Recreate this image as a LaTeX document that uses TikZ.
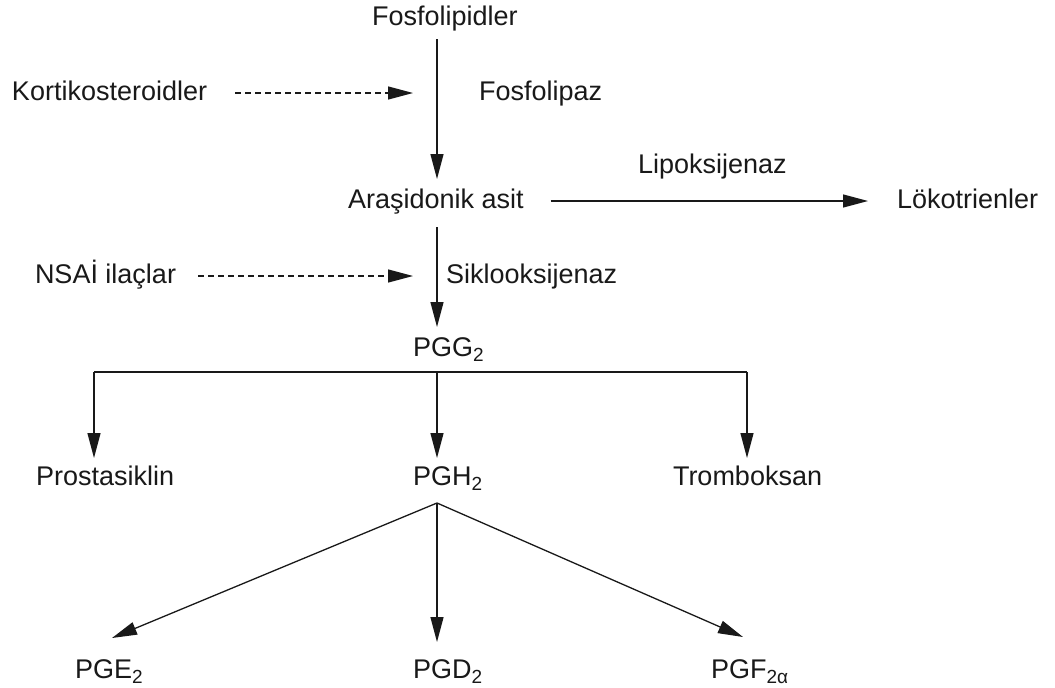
\documentclass[tikz,border=0pt]{standalone}
\usepackage{fontspec}
\setmainfont{Liberation Sans}
\usetikzlibrary{arrows.meta,calc}
\newcommand{\lowsub}[1]{\raisebox{-5pt}{\fontsize{19}{19}\selectfont #1}}
\begin{document}
\begin{tikzpicture}[x=1pt,y=-1pt,
  lbl/.style={inner sep=0pt,outer sep=0pt,anchor=base west,text height=20pt,text depth=6pt,font=\fontsize{27}{30}\selectfont,text=black!90},
  arr/.style={line width=1.3pt,black!90,-{Triangle[length=25pt,width=13pt]}},
  darr/.style={arr,dash pattern=on 6pt off 4pt},
  ln/.style={line width=1.3pt,black!90}]
\useasboundingbox (0,0) rectangle (1055,688);
\fill[white] (0,0) rectangle (1055,688);
\node[lbl] (fos) at (372,25) {Fosfolipidler};
\node[lbl] (kort) at (12,100) {Kortikosteroidler};
\node[lbl] (fosz) at (479,100) {Fosfolipaz};
\node[lbl] (lipo) at (638,173) {Lipoksijenaz};
\node[lbl] (ara) at (348,208) {Araşidonik asit};
\node[lbl] (lok) at (897,208) {Lökotrienler};
\node[lbl] (nsai) at (35,283) {NSAİ ilaçlar};
\node[lbl] (siklo) at (446,283) {Siklooksijenaz};
\node[lbl] (pgg) at (413,356) {PGG\lowsub{2}};
\node[lbl] (pros) at (36,485) {Prostasiklin};
\node[lbl] (pgh) at (413,485) {PGH\lowsub{2}};
\node[lbl] (trom) at (673,485) {Tromboksan};
\node[lbl] (pge) at (75,678) {PGE\lowsub{2}};
\node[lbl] (pgd) at (413,678) {PGD\lowsub{2}};
\node[lbl] (pgf) at (711,678) {PGF\lowsub{2α}};
\coordinate (ax) at (437,0);
\draw[arr,shorten <=8pt,shorten >=9pt] (fos.south -| ax) -- (ara.north -| ax);
\draw[darr,shorten <=28pt,shorten >=24pt] (kort.east) -- (kort.east -| ax);
\draw[arr,shorten <=27pt,shorten >=29pt] (ara.east) -- (lok.west);
\draw[arr,shorten <=13pt,shorten >=9pt] (ara.south -| ax) -- (pgg.north -| ax);
\draw[darr,shorten <=22pt,shorten >=24pt] (nsai.east) -- (nsai.east -| ax);
\coordinate (bl) at (94,372);
\coordinate (bm) at (437,372);
\coordinate (br) at (747,372);
\draw[ln] (bl) -- (br);
\draw[arr,shorten >=7pt] (bl) -- (pros.north -| bl);
\draw[arr,shorten >=7pt] (bm) -- (pgh.north -| bm);
\draw[arr,shorten >=7pt] (br) -- (trom.north -| br);
\coordinate (apex) at ($(pgh.south -| ax)+(0pt,-12pt)$);
\draw[arr] (apex) -- ($(pge.base west)+(37pt,40pt)$);
\draw[arr] (apex) -- ($(pgd.north -| ax)+(0pt,16pt)$);
\draw[arr] (apex) -- ($(pgf.base west)+(32pt,41pt)$);
\end{tikzpicture}
\end{document}
